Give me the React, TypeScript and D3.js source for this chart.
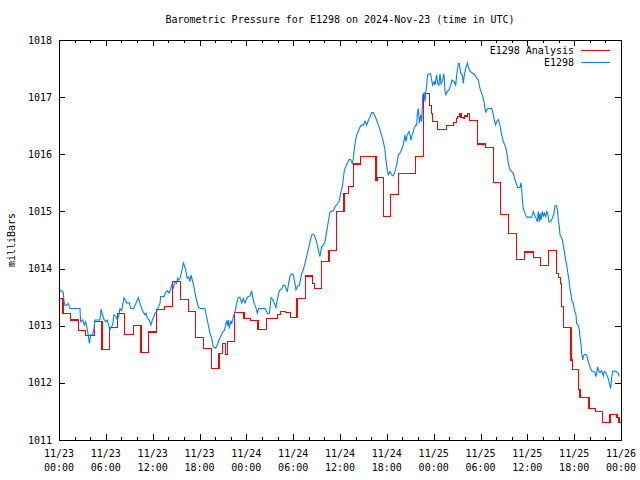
import React from "react";
import * as d3 from "d3";

const title = "Barometric Pressure for E1298 on 2024-Nov-23 (time in UTC)";
const yLabel = "milliBars";
const seriesNames = ["E1298 Analysis", "E1298"];

const yTicks = [1011, 1012, 1013, 1014, 1015, 1016, 1017, 1018];
const xTickHours = [0, 6, 12, 18, 24, 30, 36, 42, 48, 54, 60, 66, 72];
const xTickDates = ["11/23", "11/23", "11/23", "11/23", "11/24", "11/24", "11/24", "11/24", "11/25", "11/25", "11/25", "11/25", "11/26"];
const xTickTimes = ["00:00", "06:00", "12:00", "18:00", "00:00", "06:00", "12:00", "18:00", "00:00", "06:00", "12:00", "18:00", "00:00"];
const xMinorHours = d3.range(0, 73, 2);

// Analysis (red) – hours since 11/23 00:00 where value starts, and value
const redHours = [0, 0.5, 1.5, 2.5, 3.4, 4.5, 5.5, 6.5, 7.5, 8.4, 9.5, 10.5, 11.5, 12.5, 13.5, 14.5, 15.6, 16.6, 17.5, 18.5, 19.5, 20.5, 20.9, 21.3, 21.6, 22.5, 23.7, 24.5, 25.5, 26.6, 28.0, 28.4, 29.0, 29.7, 30.5, 31.55, 32.5, 32.7, 33.6, 34.6, 35.6, 36.5, 37.1, 37.7, 38.6, 40.6, 40.8, 41.6, 42.5, 43.5, 45.7, 46.7, 47.5, 47.7, 47.85, 48.5, 49.6, 50.5, 50.9, 51.1, 51.3, 51.5, 51.8, 52.0, 52.3, 52.6, 53.6, 54.6, 55.7, 56.6, 57.6, 58.6, 59.6, 60.8, 61.7, 62.7, 63.7, 64.0, 64.2, 64.4, 64.6, 65.6, 65.75, 66.6, 66.75, 67.9, 68.7, 69.6, 70.6, 71.5, 71.75, 72];
const redValues = [1013.48, 1013.22, 1013.10, 1012.91, 1012.83, 1013.07, 1012.58, 1012.97, 1013.22, 1012.84, 1013.01, 1012.53, 1012.89, 1013.29, 1013.33, 1013.78, 1013.46, 1013.25, 1012.80, 1012.60, 1012.25, 1012.52, 1012.69, 1012.50, 1012.73, 1013.23, 1013.13, 1013.09, 1012.93, 1013.13, 1013.19, 1013.25, 1013.23, 1013.15, 1013.47, 1013.87, 1013.74, 1013.65, 1014.12, 1014.31, 1015.00, 1015.32, 1015.43, 1015.83, 1015.96, 1015.55, 1015.60, 1014.91, 1015.30, 1015.67, 1015.96, 1017.07, 1016.85, 1016.72, 1016.58, 1016.44, 1016.50, 1016.56, 1016.62, 1016.66, 1016.71, 1016.64, 1016.62, 1016.67, 1016.71, 1016.59, 1016.18, 1016.12, 1015.51, 1014.94, 1014.62, 1014.16, 1014.29, 1014.19, 1014.06, 1014.31, 1013.92, 1013.85, 1013.74, 1013.33, 1012.97, 1012.40, 1012.24, 1011.88, 1011.74, 1011.55, 1011.50, 1011.31, 1011.45, 1011.40, 1011.30, 1011.29];

// Observed (blue)
const blueHours = [0, 0.13, 0.38, 0.55, 0.64, 0.77, 0.98, 1.2, 1.41, 2.69, 2.77, 3.03, 3.25, 3.42, 3.63, 3.76, 3.89, 4.06, 4.31, 4.48, 4.61, 5.25, 5.38, 5.55, 5.77, 5.98, 6.19, 6.32, 6.53, 6.66, 6.87, 7.04, 7.3, 7.47, 7.68, 7.81, 8.03, 8.16, 8.33, 8.5, 8.67, 9.01, 9.18, 9.52, 9.74, 9.95, 10.16, 10.38, 10.59, 10.8, 11.02, 11.15, 11.32, 11.57, 11.78, 11.96, 12.17, 12.3, 12.51, 12.73, 12.94, 13.02, 13.45, 13.66, 13.92, 14.13, 14.3, 14.43, 14.65, 14.86, 15.07, 15.2, 15.28, 15.5, 15.71, 15.93, 16.05, 16.22, 16.44, 16.61, 16.78, 16.91, 17.08, 17.29, 17.42, 17.63, 17.85, 18.06, 18.7, 18.9, 19.13, 19.34, 19.56, 19.77, 20.07, 20.28, 20.5, 20.71, 20.97, 21.18, 21.35, 21.48, 21.6, 21.69, 21.82, 21.99, 22.12, 22.33, 22.55, 22.76, 22.97, 23.19, 23.4, 23.61, 23.83, 24.04, 24.25, 24.47, 24.68, 24.81, 24.98, 25.19, 25.41, 25.58, 26.39, 26.6, 26.73, 26.95, 27.16, 27.37, 27.59, 27.8, 27.97, 28.14, 28.31, 28.53, 28.74, 28.95, 29.08, 29.25, 29.38, 29.59, 29.81, 30.02, 30.23, 30.36, 30.57, 30.79, 31.08, 31.3, 31.51, 31.73, 31.94, 32.16, 32.37, 32.58, 32.79, 33.0, 33.22, 33.43, 33.65, 33.86, 34.07, 34.29, 34.5, 34.72, 35.14, 35.36, 35.65, 35.87, 36.0, 36.13, 36.3, 36.43, 36.56, 36.72, 36.93, 37.15, 37.36, 37.58, 37.71, 37.84, 38.0, 38.14, 38.35, 38.56, 38.77, 38.99, 39.2, 39.41, 39.63, 39.84, 40.05, 40.27, 40.48, 40.69, 40.91, 41.12, 41.33, 41.55, 41.76, 41.89, 42.06, 42.19, 42.4, 42.62, 42.83, 43.04, 43.26, 43.47, 43.68, 43.89, 44.1, 44.32, 44.45, 44.62, 44.84, 44.97, 45.09, 45.26, 45.48, 45.69, 45.82, 45.91, 46.04, 46.17, 46.34, 46.47, 46.6, 46.77, 46.9, 46.98, 47.1, 47.23, 47.4, 47.61, 47.74, 47.87, 48.04, 48.17, 48.38, 48.51, 48.68, 48.81, 48.94, 49.11, 49.32, 49.45, 49.58, 49.75, 49.97, 50.18, 50.35, 50.61, 50.82, 50.95, 51.16, 51.29, 51.46, 51.67, 51.8, 51.93, 52.1, 52.32, 52.44, 52.66, 52.87, 53.08, 53.3, 53.51, 53.72, 53.94, 54.15, 54.36, 54.49, 54.66, 54.79, 55.0, 55.43, 55.55, 55.72, 55.94, 56.06, 56.28, 56.49, 56.71, 56.92, 57.14, 57.35, 57.56, 57.78, 57.99, 58.2, 58.42, 58.76, 59.06, 59.18, 59.27, 59.36, 59.48, 59.7, 59.91, 60.34, 60.55, 60.77, 60.98, 61.19, 61.28, 61.41, 61.53, 61.62, 61.75, 61.92, 62.05, 62.17, 62.35, 62.47, 62.6, 62.77, 62.99, 63.2, 63.41, 63.54, 63.75, 63.88, 63.97, 64.1, 64.18, 64.31, 64.48, 64.61, 64.74, 64.91, 65.04, 65.16, 65.33, 65.46, 65.59, 65.76, 65.89, 66.02, 66.23, 66.32, 66.53, 66.66, 66.74, 66.87, 66.96, 67.09, 67.17, 67.3, 67.6, 67.81, 68.02, 68.24, 68.45, 68.66, 68.79, 68.88, 69.01, 69.18, 69.31, 69.52, 69.73, 69.86, 70.03, 70.29, 70.46, 70.67, 70.8, 70.93, 71.1, 71.44, 71.65, 71.78];
const blueValues = [1013.67, 1013.61, 1013.61, 1013.58, 1013.42, 1013.36, 1013.36, 1013.39, 1013.30, 1013.30, 1013.07, 1013.10, 1013.01, 1013.07, 1012.93, 1012.82, 1012.69, 1012.84, 1012.84, 1012.94, 1013.10, 1013.10, 1013.29, 1013.20, 1013.11, 1013.07, 1013.10, 1013.03, 1012.93, 1012.97, 1013.01, 1013.19, 1013.16, 1013.10, 1013.19, 1013.30, 1013.27, 1013.36, 1013.49, 1013.44, 1013.40, 1013.40, 1013.30, 1013.30, 1013.36, 1013.42, 1013.49, 1013.39, 1013.30, 1013.24, 1013.19, 1013.22, 1013.13, 1013.10, 1013.01, 1013.10, 1013.16, 1013.22, 1013.24, 1013.33, 1013.39, 1013.51, 1013.51, 1013.58, 1013.61, 1013.57, 1013.64, 1013.71, 1013.66, 1013.77, 1013.74, 1013.83, 1013.80, 1013.83, 1013.94, 1014.10, 1014.06, 1013.98, 1013.83, 1013.85, 1013.77, 1013.89, 1013.80, 1013.68, 1013.57, 1013.45, 1013.33, 1013.30, 1013.30, 1013.16, 1013.01, 1012.87, 1012.78, 1012.63, 1012.61, 1012.66, 1012.75, 1012.81, 1012.89, 1012.92, 1013.01, 1013.09, 1013.00, 1013.10, 1012.95, 1013.09, 1013.03, 1013.16, 1013.24, 1013.39, 1013.49, 1013.50, 1013.40, 1013.48, 1013.40, 1013.48, 1013.51, 1013.52, 1013.61, 1013.51, 1013.40, 1013.33, 1013.22, 1013.30, 1013.30, 1013.25, 1013.21, 1013.21, 1013.49, 1013.46, 1013.39, 1013.32, 1013.45, 1013.57, 1013.63, 1013.64, 1013.71, 1013.70, 1013.64, 1013.60, 1013.71, 1013.86, 1013.91, 1013.89, 1013.74, 1013.63, 1013.70, 1013.70, 1013.91, 1013.98, 1014.09, 1014.21, 1014.33, 1014.47, 1014.59, 1014.60, 1014.56, 1014.47, 1014.33, 1014.21, 1014.38, 1014.41, 1014.47, 1014.65, 1014.82, 1014.99, 1015.01, 1015.08, 1015.13, 1015.17, 1015.26, 1015.35, 1015.43, 1015.58, 1015.72, 1015.78, 1015.84, 1015.91, 1015.91, 1015.84, 1015.93, 1016.10, 1016.25, 1016.34, 1016.40, 1016.48, 1016.51, 1016.51, 1016.58, 1016.51, 1016.59, 1016.65, 1016.73, 1016.73, 1016.67, 1016.60, 1016.51, 1016.43, 1016.33, 1016.22, 1016.08, 1015.90, 1015.72, 1015.64, 1015.70, 1015.64, 1015.62, 1015.70, 1015.81, 1015.99, 1016.02, 1016.08, 1016.16, 1016.34, 1016.22, 1016.34, 1016.40, 1016.34, 1016.25, 1016.34, 1016.45, 1016.51, 1016.51, 1016.72, 1016.80, 1016.54, 1016.69, 1016.57, 1017.04, 1017.07, 1016.92, 1017.07, 1017.21, 1017.39, 1017.41, 1017.41, 1017.30, 1017.21, 1017.27, 1017.21, 1017.39, 1017.24, 1017.21, 1017.41, 1017.23, 1017.28, 1017.41, 1017.10, 1017.04, 1017.10, 1017.13, 1017.21, 1017.30, 1017.27, 1017.21, 1017.39, 1017.59, 1017.59, 1017.42, 1017.39, 1017.24, 1017.39, 1017.50, 1017.60, 1017.53, 1017.45, 1017.43, 1017.41, 1017.39, 1017.33, 1017.30, 1017.15, 1017.07, 1016.98, 1016.89, 1016.73, 1016.78, 1016.80, 1016.80, 1016.75, 1016.63, 1016.51, 1016.57, 1016.61, 1016.51, 1016.34, 1016.22, 1016.16, 1016.05, 1015.84, 1015.72, 1015.70, 1015.67, 1015.55, 1015.42, 1015.42, 1015.50, 1015.40, 1015.20, 1015.05, 1014.97, 1014.90, 1014.90, 1014.90, 1015.00, 1014.92, 1014.86, 1014.82, 1015.00, 1014.82, 1014.97, 1014.85, 1015.00, 1014.91, 1014.97, 1014.91, 1015.00, 1014.97, 1014.82, 1014.82, 1014.88, 1014.97, 1015.10, 1015.10, 1015.00, 1014.85, 1014.73, 1014.59, 1014.56, 1014.50, 1014.41, 1014.30, 1014.15, 1014.06, 1013.95, 1013.80, 1013.65, 1013.54, 1013.42, 1013.39, 1013.28, 1013.19, 1013.04, 1013.00, 1012.93, 1012.81, 1012.69, 1012.52, 1012.40, 1012.46, 1012.50, 1012.49, 1012.37, 1012.28, 1012.21, 1012.20, 1012.18, 1012.11, 1012.17, 1012.28, 1012.20, 1012.18, 1012.21, 1012.12, 1012.20, 1012.18, 1012.11, 1012.02, 1011.90, 1012.08, 1012.20, 1012.21, 1012.19, 1012.17, 1012.11];

const RED = "#ff0000";
const BLUE = "#0080ff";
const FONT = "'DejaVu Sans Mono', monospace";

export default function App() {
  const W = 640, H = 480;
  const left = 59, right = 621, top = 40, bottom = 440;
  const x = d3.scaleLinear().domain([0, 72]).range([left, right]);
  const y = d3.scaleLinear().domain([1011, 1018]).range([bottom, top]);

  const redData = redHours.map((h, i) => [h, redValues[i]] as [number, number]);
  const blueData = blueHours.map((h, i) => [h, blueValues[i]] as [number, number]);

  const redLine = d3.line<[number, number]>().x(d => x(d[0])).y(d => y(d[1])).curve(d3.curveStepAfter);
  const blueLine = d3.line<[number, number]>().x(d => x(d[0])).y(d => y(d[1]));

  const majorLen = 6, minorLen = 3;

  return (
    <svg width={W} height={H} style={{ display: "block", position: "absolute", left: 0, top: 0 }} fontFamily={FONT} fontSize={10}>
      <rect x={0} y={0} width={W} height={H} fill="#fff" />
      <text x={(left + right) / 2} y={23} textAnchor="middle" fill="#000">{title}</text>
      <text transform={`translate(15,${(top + bottom) / 2}) rotate(-90)`} textAnchor="middle" fill="#000">{yLabel}</text>

      {/* y ticks */}
      {yTicks.map(v => (
        <g key={"y" + v}>
          <line x1={left} x2={left + majorLen} y1={Math.round(y(v)) + 0.5} y2={Math.round(y(v)) + 0.5} stroke="#000" />
          <line x1={right} x2={right - majorLen} y1={Math.round(y(v)) + 0.5} y2={Math.round(y(v)) + 0.5} stroke="#000" />
          <text x={52} y={y(v) + 3.5} textAnchor="end" fill="#000">{v}</text>
        </g>
      ))}

      {/* x minor ticks */}
      {xMinorHours.filter(h => h % 6 !== 0).map(h => (
        <g key={"xm" + h}>
          <line x1={Math.round(x(h)) + 0.5} x2={Math.round(x(h)) + 0.5} y1={bottom} y2={bottom - minorLen} stroke="#000" />
          <line x1={Math.round(x(h)) + 0.5} x2={Math.round(x(h)) + 0.5} y1={top} y2={top + minorLen} stroke="#000" />
        </g>
      ))}
      {/* x major ticks */}
      {xTickHours.map((h, i) => (
        <g key={"x" + h}>
          <line x1={Math.round(x(h)) + 0.5} x2={Math.round(x(h)) + 0.5} y1={bottom} y2={bottom - majorLen} stroke="#000" />
          <line x1={Math.round(x(h)) + 0.5} x2={Math.round(x(h)) + 0.5} y1={top} y2={top + majorLen} stroke="#000" />
          <text x={x(h)} y={457} textAnchor="middle" fill="#000">{xTickDates[i]}</text>
          <text x={x(h)} y={471} textAnchor="middle" fill="#000">{xTickTimes[i]}</text>
        </g>
      ))}

      <path d={redLine(redData) || ""} fill="none" stroke={RED} strokeWidth={1.2} shapeRendering="crispEdges" />
      <path d={blueLine(blueData) || ""} fill="none" stroke={BLUE} strokeWidth={1.1} />

      {/* frame */}
      <rect x={left + 0.5} y={top + 0.5} width={right - left} height={bottom - top} fill="none" stroke="#000" />

      {/* legend */}
      <text x={574} y={54} textAnchor="end" fill="#000">{seriesNames[0]}</text>
      <line x1={581} x2={610} y1={50.5} y2={50.5} stroke={RED} />
      <text x={574} y={66} textAnchor="end" fill="#000">{seriesNames[1]}</text>
      <line x1={581} x2={610} y1={62.5} y2={62.5} stroke={BLUE} />
    </svg>
  );
}
